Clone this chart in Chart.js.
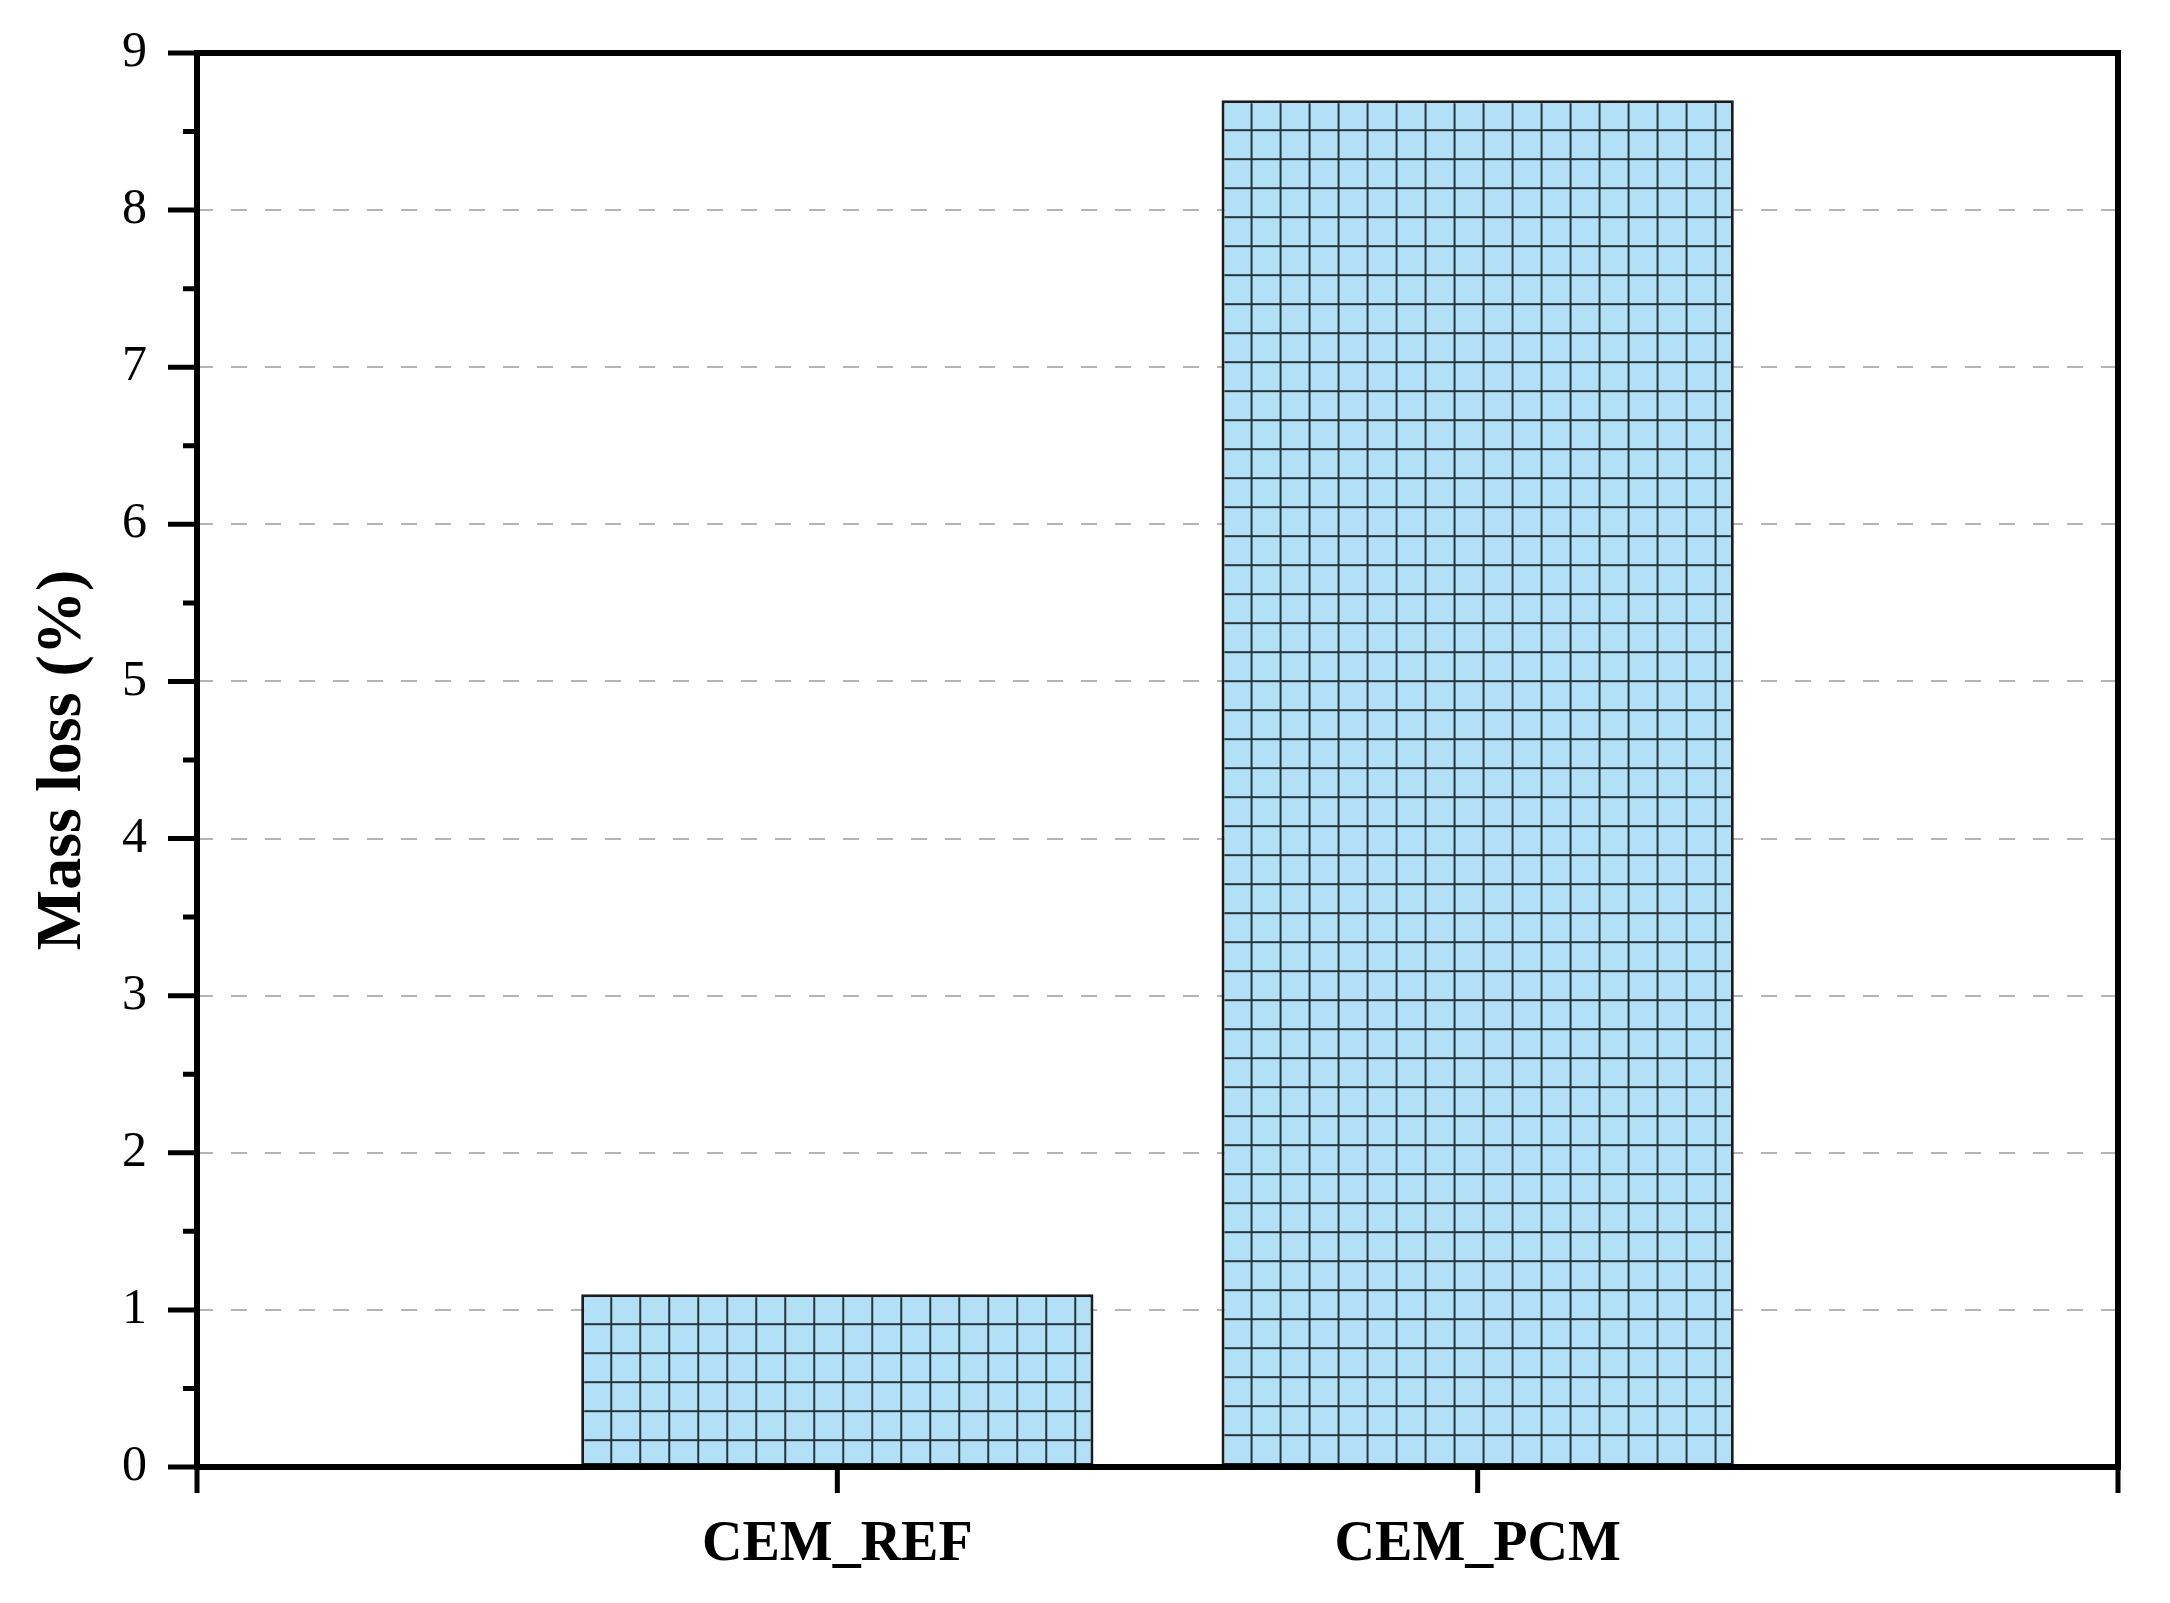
<!DOCTYPE html>
<html>
<head>
<meta charset="utf-8">
<script src="https://cdn.jsdelivr.net/npm/chart.js@4.4.1/dist/chart.umd.min.js"></script>
<style>
  html, body { margin: 0; padding: 0; background: #fff; }
</style>
</head>
<body>
<canvas id="massLossChart" width="2170" height="1603"></canvas>
<script>
// data
var categories = ['CEM_REF', 'CEM_PCM'];
var massLoss = [1.1, 8.7];
var yMin = 0;
var yMax = 9;

var serif = "'Liberation Serif', 'Times New Roman', serif";

// light blue fill with a dark square grid, like the Origin pattern
function gridPattern() {
  var tile = document.createElement('canvas');
  tile.width = 29;
  tile.height = 29;
  var g = tile.getContext('2d');
  g.fillStyle = '#b1e0f7';
  g.fillRect(0, 0, 29, 29);
  g.fillStyle = '#26343b';
  g.fillRect(0, 0, 29, 2);
  g.fillRect(0, 0, 2, 29);
  return g.createPattern(tile, 'repeat');
}
var patterns = categories.map(function () { return gridPattern(); });

var frameAndTicks = {
  id: 'frameAndTicks',
  beforeDatasetsDraw: function (chart) {
    // line the pattern up with each bar's top-left corner
    chart.getDatasetMeta(0).data.forEach(function (bar, i) {
      var left = bar.x - bar.width / 2;
      patterns[i].setTransform(new DOMMatrix().translate(left, bar.y));
    });
  },
  afterDatasetsDraw: function (chart) {
    var ctx = chart.ctx;
    var a = chart.chartArea;
    var xs = chart.scales.x;
    var ys = chart.scales.y;
    ctx.save();
    ctx.strokeStyle = '#000';
    ctx.lineWidth = 6;
    ctx.strokeRect(a.left, a.top, a.right - a.left, a.bottom - a.top);
    ctx.lineWidth = 5;
    ctx.beginPath();
    ys.ticks.forEach(function (t) {
      var p = ys.getPixelForValue(t.value);
      ctx.moveTo(a.left - 29, p);
      ctx.lineTo(a.left, p);
    });
    for (var v = yMin + 0.5; v < yMax; v += 1) {
      var p = ys.getPixelForValue(v);
      ctx.moveTo(a.left - 14, p);
      ctx.lineTo(a.left, p);
    }
    xs.ticks.forEach(function (t) {
      var p = xs.getPixelForValue(t.value);
      ctx.moveTo(p, a.bottom);
      ctx.lineTo(p, a.bottom + 26);
    });
    ctx.stroke();
    ctx.restore();
  }
};

var ctx = document.getElementById('massLossChart').getContext('2d');
var chart = new Chart(ctx, {
  type: 'bar',
  data: {
    datasets: [{
      data: massLoss.map(function (v, i) { return { x: i + 1, y: v }; }),
      backgroundColor: patterns,
      borderColor: '#1c1c1c',
      borderWidth: 3,
      borderSkipped: false,
      categoryPercentage: 1,
      barPercentage: 0.8
    }]
  },
  options: {
    responsive: false,
    animation: false,
    layout: { padding: { top: 53, right: 52, left: 0, bottom: 0 } },
    plugins: {
      legend: { display: false },
      tooltip: { enabled: false }
    },
    scales: {
      x: {
        type: 'linear',
        min: 0,
        max: 3,
        offset: false,
        grid: { display: false, offset: false, drawTicks: false },
        border: { display: false },
        ticks: {
          stepSize: 1,
          autoSkip: false,
          maxRotation: 0,
          padding: 45,
          color: '#000',
          font: { family: serif, size: 56, weight: 'bold' },
          callback: function (v) { return categories[v - 1] || ''; }
        },
        afterFit: function (scale) {
          scale.height = 136;
          scale.paddingLeft = 0;
          scale.paddingRight = 0;
        }
      },
      y: {
        min: yMin,
        max: yMax,
        grid: {
          drawTicks: false,
          lineWidth: 2,
          color: function (c) {
            var v = c.tick ? c.tick.value : 0;
            return (v === yMin || v === yMax) ? 'rgba(0,0,0,0)' : '#b4b4b4';
          }
        },
        border: { display: false, dash: [16, 18] },
        ticks: {
          stepSize: 1,
          padding: 50,
          color: '#000',
          font: { family: serif, size: 50 }
        },
        title: {
          display: true,
          text: 'Mass loss (%)',
          color: '#000',
          padding: { top: 31, bottom: 0 },
          font: { family: serif, size: 64, weight: 'bold', lineHeight: 1 }
        },
        afterFit: function (scale) {
          scale.width = 197;
          scale.paddingTop = 0;
          scale.paddingBottom = 0;
        }
      }
    }
  },
  plugins: [frameAndTicks]
});
</script>
</body>
</html>
